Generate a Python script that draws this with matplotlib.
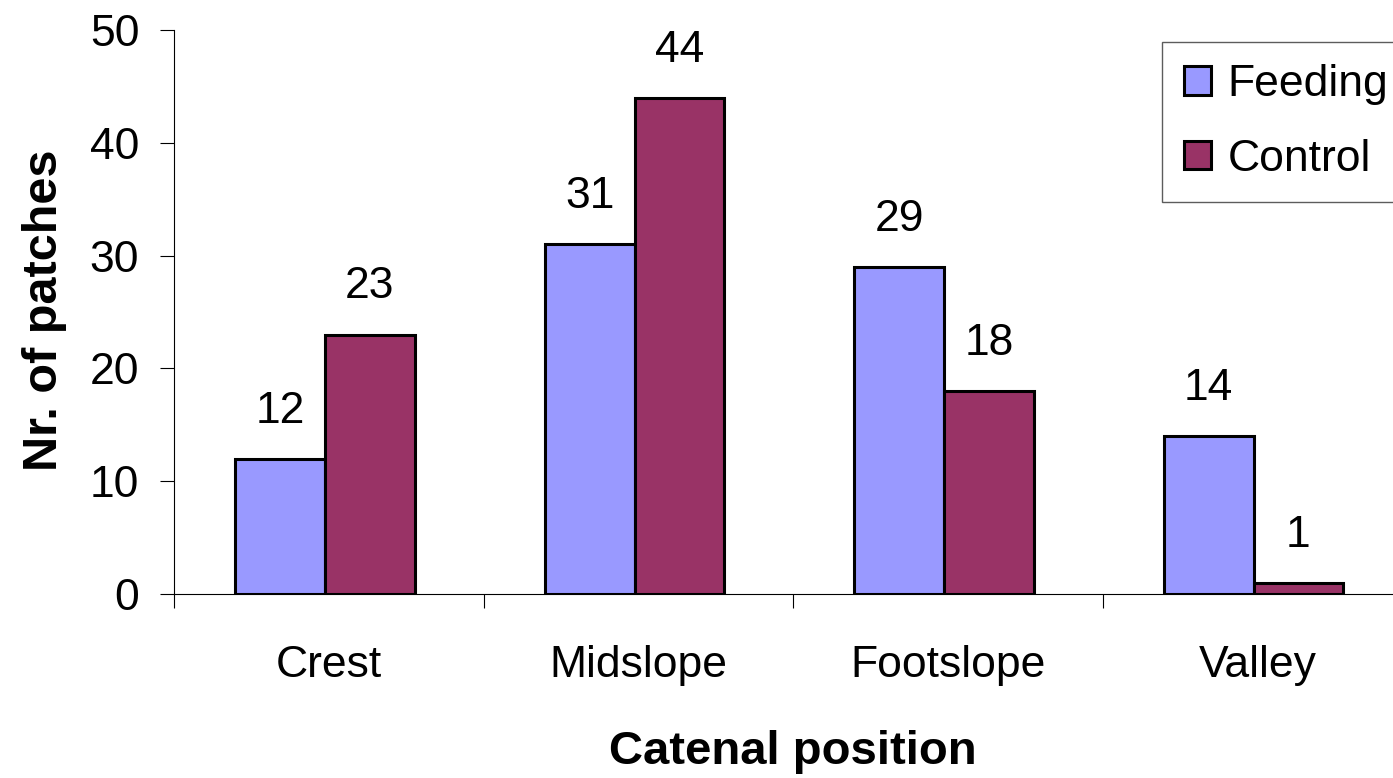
import numpy as np
import matplotlib.pyplot as plt
from matplotlib.ticker import FixedLocator, NullFormatter

plt.rcParams['font.family'] = ['Liberation Sans', 'DejaVu Sans']

positions = ['Crest', 'Midslope', 'Footslope', 'Valley']
feeding = [12, 31, 29, 14]
control = [23, 44, 18, 1]

fig = plt.figure(figsize=(13.93, 7.78), dpi=100)
ax = fig.add_axes([174 / 1393, 1 - 594 / 778, 1238 / 1393, 564 / 778])

x = np.arange(len(positions))
w = 0.29
b1 = ax.bar(x - 0.157, feeding, w, color='#9999FF', edgecolor='black', linewidth=2.2, label='Feeding')
b2 = ax.bar(x + 0.133, control, w, color='#993366', edgecolor='black', linewidth=2.2, label='Control')

for bars, vals in ((b1, feeding), (b2, control)):
    for bar, v in zip(bars, vals):
        ax.annotate(str(v), (bar.get_x() + bar.get_width() / 2, v),
                    xytext=(0, 26), textcoords='offset points',
                    ha='center', va='baseline', fontsize=32)

ax.set_xlim(-0.5, 3.5)
ax.set_ylim(0, 50)
ax.set_yticks(range(0, 51, 10))
ax.xaxis.set_major_locator(FixedLocator(np.arange(-0.5, 4, 1)))
ax.xaxis.set_major_formatter(NullFormatter())
ax.xaxis.set_minor_locator(FixedLocator(x))
ax.set_xticklabels(positions, minor=True)
ax.tick_params(axis='x', which='major', direction='out', length=10, width=0.8)
ax.tick_params(axis='x', which='minor', length=0, pad=37, labelsize=32)
ax.tick_params(axis='y', direction='out', length=10, width=0.8, pad=15, labelsize=32)

for s in ('top', 'right'):
    ax.spines[s].set_visible(False)
for s in ('left', 'bottom'):
    ax.spines[s].set_linewidth(0.8)

fig.text(793 / 1393, 1 - 752 / 778, 'Catenal position', ha='center', va='center',
         fontsize=34, fontweight='bold')
fig.text(45 / 1393, 1 - 310 / 778, 'Nr. of patches', ha='center', va='center',
         rotation=90, fontsize=35, fontweight='bold')

leg = ax.legend(loc='upper left', bbox_to_anchor=(1162 / 1393, 1 - 42 / 778),
                bbox_transform=fig.transFigure, fontsize=32, frameon=True,
                fancybox=False, edgecolor='#333333', borderaxespad=0,
                borderpad=0.5, handlelength=0.6, handleheight=0.6,
                handletextpad=0.37, labelspacing=0.75)
leg.get_frame().set_linewidth(1.0)
for h in leg.legend_handles:
    h.set_linewidth(2.2)

fig.savefig('out.png', dpi=100)
